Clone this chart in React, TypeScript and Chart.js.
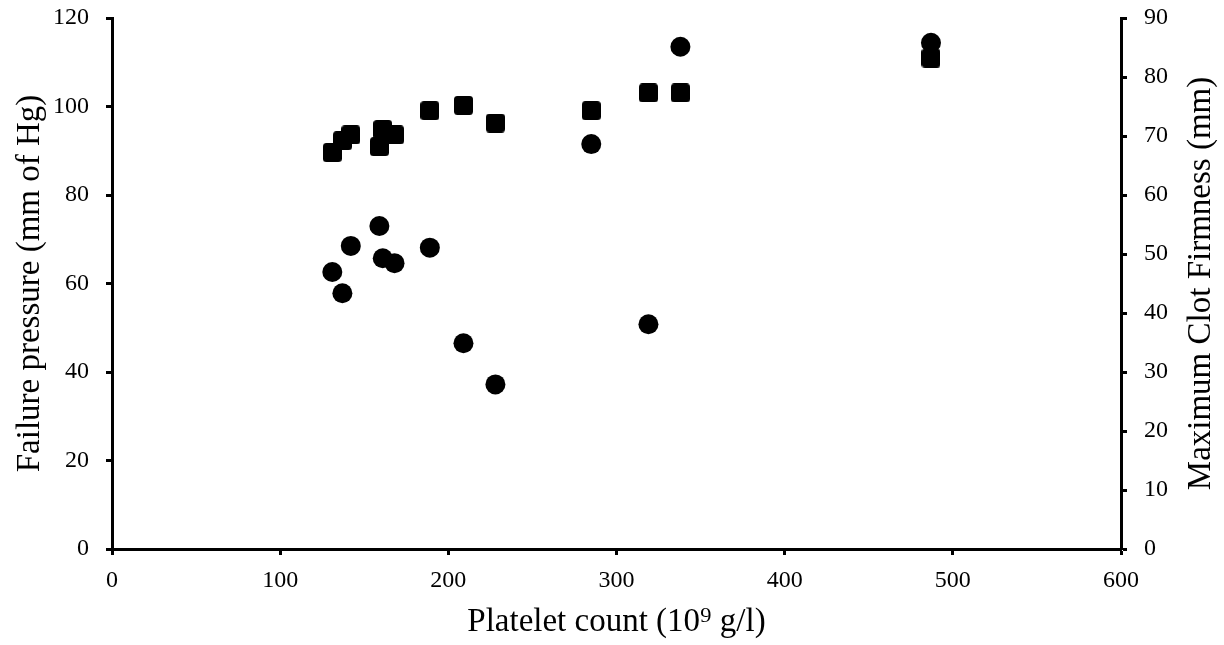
import React, { useEffect, useRef } from "react";
import { Chart, registerables } from "chart.js";

Chart.register(...registerables);

const plateletCount = [131, 137, 142, 159, 161, 168, 189, 209, 228, 285, 319, 338, 487];
const failurePressure = [62.6, 57.8, 68.5, 73.0, 65.7, 64.6, 68.1, 46.5, 37.2, 91.5, 50.8, 113.5, 114.4];
const maxClotFirmness = [67.2, 69.2, 70.2, 68.2, 71.1, 70.2, 74.3, 75.2, 72.2, 74.3, 77.3, 77.3, 83.2];

const xTitle = "Platelet count (10⁹ g/l)";
const yLeftTitle = "Failure pressure (mm of Hg)";
const yRightTitle = "Maximum Clot Firmness (mm)";

const FONT = "'Liberation Serif', 'Times New Roman', serif";
const TICK_SIZE = 24;
const TITLE_SIZE = 33;

function makeSquare(): HTMLCanvasElement {
  const c = document.createElement("canvas");
  const s = 19;
  c.width = s;
  c.height = s;
  const ctx = c.getContext("2d")!;
  ctx.fillStyle = "#000";
  ctx.beginPath();
  const r = 3.5;
  ctx.moveTo(r, 0);
  ctx.lineTo(s - r, 0);
  ctx.quadraticCurveTo(s, 0, s, r);
  ctx.lineTo(s, s - r);
  ctx.quadraticCurveTo(s, s, s - r, s);
  ctx.lineTo(r, s);
  ctx.quadraticCurveTo(0, s, 0, s - r);
  ctx.lineTo(0, r);
  ctx.quadraticCurveTo(0, 0, r, 0);
  ctx.closePath();
  ctx.fill();
  return c;
}

const rightTitlePlugin = {
  id: "rightTitle",
  afterDraw(chart: any) {
    const { ctx, chartArea } = chart;
    ctx.save();
    ctx.fillStyle = "#000";
    ctx.font = `${TITLE_SIZE}px ${FONT}`;
    ctx.textAlign = "center";
    ctx.textBaseline = "middle";
    ctx.translate(1201, (chartArea.top + chartArea.bottom) / 2);
    ctx.rotate(-Math.PI / 2);
    ctx.fillText(yRightTitle, 0, 0);
    ctx.restore();
  },
};

export default function App() {
  const ref = useRef<HTMLCanvasElement | null>(null);

  useEffect(() => {
    if (!ref.current) return;
    const square = makeSquare();
    const circles = plateletCount.map((x, i) => ({ x, y: failurePressure[i] }));
    const squares = plateletCount.map((x, i) => ({ x, y: maxClotFirmness[i] }));

    const axisCommon = {
      border: { display: true, color: "#000", width: 3 },
      grid: {
        drawOnChartArea: false,
        drawTicks: true,
        tickLength: 6,
        tickWidth: 3,
        tickColor: "#000",
      },
    };

    const fitVertical = (w: number) => (s: any) => {
      s.width = w;
      s.paddingTop = 0;
      s.paddingBottom = 0;
    };

    const chart = new Chart(ref.current, {
      type: "scatter",
      data: {
        datasets: [
          {
            label: "MCF",
            data: squares,
            yAxisID: "y1",
            pointStyle: square as any,
            pointRadius: 10,
            backgroundColor: "#000",
            borderWidth: 0,
            order: 2,
          },
          {
            label: "Failure pressure",
            data: circles,
            yAxisID: "y",
            pointStyle: "circle",
            pointRadius: 10,
            backgroundColor: "#000",
            borderColor: "#000",
            borderWidth: 0,
            order: 1,
          },
        ],
      },
      options: {
        responsive: false,
        animation: false,
        layout: { padding: { top: 18, left: 0, right: 0, bottom: 0 } },
        plugins: { legend: { display: false }, tooltip: { enabled: false } },
        scales: {
          x: {
            type: "linear",
            min: 0,
            max: 600,
            ...axisCommon,
            ticks: {
              stepSize: 100,
              color: "#000",
              padding: 11,
              font: { family: FONT, size: TICK_SIZE },
            },
            title: {
              display: true,
              text: xTitle,
              color: "#000",
              font: { family: FONT, size: TITLE_SIZE },
              padding: { top: 0, bottom: 3 },
            },
            afterFit: (s: any) => {
              s.height = 96;
              s.paddingLeft = 0;
              s.paddingRight = 0;
            },
          },
          y: {
            type: "linear",
            position: "left",
            min: 0,
            max: 120,
            ...axisCommon,
            ticks: {
              stepSize: 20,
              color: "#000",
              padding: 17,
              font: { family: FONT, size: TICK_SIZE },
            },
            title: {
              display: true,
              text: yLeftTitle,
              color: "#000",
              font: { family: FONT, size: TITLE_SIZE },
              padding: { top: 11, bottom: 0 },
            },
            afterFit: fitVertical(112),
          },
          y1: {
            type: "linear",
            position: "right",
            min: 0,
            max: 90,
            ...axisCommon,
            ticks: {
              stepSize: 10,
              color: "#000",
              padding: 17,
              font: { family: FONT, size: TICK_SIZE },
            },
            title: { display: false, text: yRightTitle },
            afterFit: fitVertical(103),
          },
        },
      },
      plugins: [rightTitlePlugin],
    } as any);
    return () => chart.destroy();
  }, []);

  return (
    <div style={{ position: "absolute", left: 0, top: 0, width: 1224, height: 645, background: "#fff" }}>
      <canvas ref={ref} width={1224} height={645} style={{ width: 1224, height: 645, display: "block" }} />
    </div>
  );
}
